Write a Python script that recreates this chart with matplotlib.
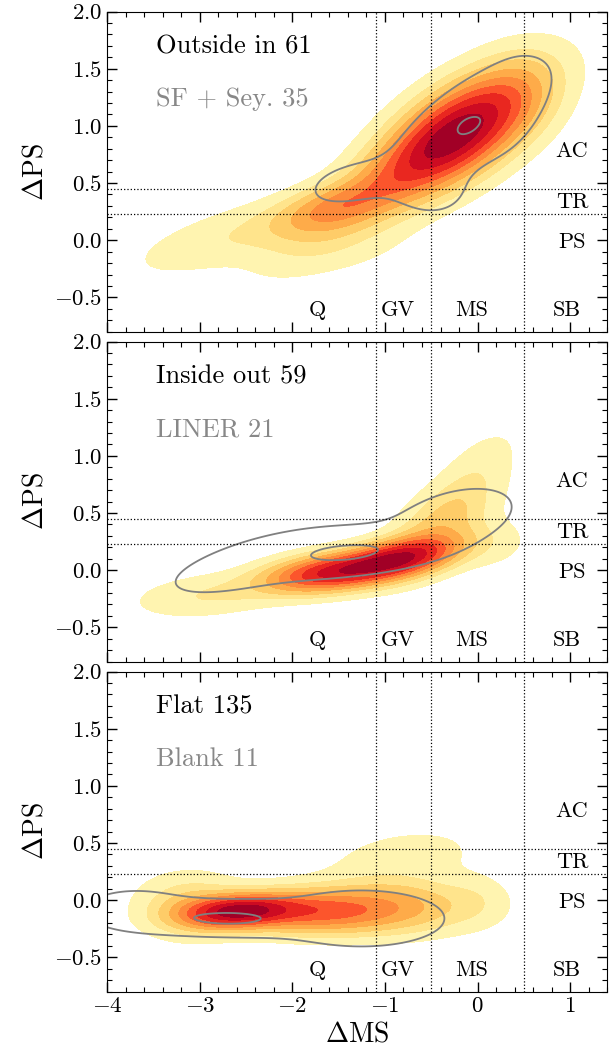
import numpy as np
import matplotlib
matplotlib.use("Agg")
import matplotlib.pyplot as plt
from matplotlib.ticker import MultipleLocator

plt.rcParams['font.family'] = 'serif'
plt.rcParams['font.serif'] = ['cmr10', 'DejaVu Serif']
plt.rcParams['mathtext.fontset'] = 'cm'
plt.rcParams['axes.formatter.use_mathtext'] = True

# panel titles (black = filled density, grey = contour lines)
titles = ['Outside in 61', 'Inside out 59', 'Flat 135']
subtitles = ['SF + Sey. 35', 'LINER 21', 'Blank 11']

# density blobs: x0, y0, sx, sy, rho, weight
filled_outside = [(-0.2, 0.95, 0.50, 0.32, 0.60, 1.0),
                  (-0.8, 0.60, 0.70, 0.40, 0.85, 0.35),
                  (-1.6, 0.28, 0.40, 0.15, 0.55, 0.30),
                  (-2.6, 0.05, 0.70, 0.22, 0.70, 0.10),
                  (-1.5, -0.05, 0.55, 0.18, 0.30, 0.05),
                  (0.45, 1.25, 0.30, 0.25, 0.20, 0.10)]
lines_sf = [(-0.1, 1.00, 0.50, 0.33, 0.70, 1.0),
            (-0.12, 1.00, 0.15, 0.10, 0.30, 0.25),
            (0.35, 1.15, 0.20, 0.25, 0.30, 0.22),
            (-1.4, 0.50, 0.35, 0.15, 0.40, 0.35),
            (-0.45, 0.42, 0.25, 0.15, 0.00, 0.30)]

filled_inside = [(-0.85, 0.10, 0.40, 0.12, 0.50, 1.0),
                 (-1.6, -0.02, 0.45, 0.11, 0.40, 0.90),
                 (-2.9, -0.22, 0.50, 0.12, 0.30, 0.12),
                 (-0.4, 0.40, 0.35, 0.25, 0.60, 0.25),
                 (0.0, 0.88, 0.30, 0.25, 0.60, 0.07),
                 (0.1, 0.25, 0.30, 0.15, 0.00, 0.07)]
lines_liner = [(-1.35, 0.15, 0.55, 0.12, 0.30, 1.0),
               (-0.25, 0.45, 0.45, 0.19, 0.40, 0.60),
               (-2.4, 0.06, 0.75, 0.22, 0.65, 0.45)]

filled_flat = [(-2.6, -0.10, 0.38, 0.09, 0.20, 1.0),
               (-1.8, -0.10, 0.55, 0.12, 0.00, 0.58),
               (-0.9, -0.05, 0.55, 0.15, 0.00, 0.32),
               (-0.8, 0.38, 0.55, 0.17, 0.30, 0.07),
               (0.0, 0.00, 0.22, 0.15, 0.00, 0.05),
               (-3.1, -0.05, 0.35, 0.17, 0.00, 0.20)]
lines_blank = [(-2.7, -0.16, 0.55, 0.09, 0.00, 1.0),
               (-1.25, -0.16, 0.62, 0.17, 0.00, 0.60),
               (-3.7, -0.08, 0.45, 0.14, 0.00, 0.40)]

filled_sets = [filled_outside, filled_inside, filled_flat]
line_sets = [lines_sf, lines_liner, lines_blank]

# region boundaries
ms_cuts = [-1.1, -0.5, 0.5]
ps_cuts = [0.45, 0.23]
ms_names = ['Q', 'GV', 'MS', 'SB']
ms_name_x = [-1.73, -0.86, -0.06, 0.96]
ps_names = ['AC', 'TR', 'PS']
ps_name_y = [0.78, 0.33, -0.02]

fill_levels = [0.03, 0.09, 0.16, 0.25, 0.35, 0.46, 0.58, 0.72, 0.86, 1.01]
line_levels = [[0.17, 0.93], [0.2, 0.88], [0.2, 0.88]]


def mixture(blobs, X, Y):
    Z = np.zeros_like(X)
    for x0, y0, sx, sy, r, w in blobs:
        dx = (X - x0) / sx
        dy = (Y - y0) / sy
        Z += w * np.exp(-0.5 / (1 - r**2) * (dx**2 - 2 * r * dx * dy + dy**2))
    return Z / Z.max()


xg = np.linspace(-4.6, 1.8, 400)
yg = np.linspace(-1.0, 2.2, 300)
X, Y = np.meshgrid(xg, yg)

cols = plt.cm.YlOrRd(np.linspace(0.08, 0.93, len(fill_levels) - 1))

fig, axes = plt.subplots(3, 1, figsize=(6.09, 10.56), dpi=100, sharex=True)
plt.subplots_adjust(left=0.176, right=0.997, top=0.989, bottom=0.061, hspace=0.031)

for i, ax in enumerate(axes):
    Zf = mixture(filled_sets[i], X, Y)
    ax.contourf(X, Y, Zf, levels=fill_levels, colors=cols)
    Zl = mixture(line_sets[i], X, Y)
    ax.contour(X, Y, Zl, levels=line_levels[i], colors='grey', linewidths=1.3)

    for c in ms_cuts:
        ax.axvline(c, color='k', ls=':', lw=0.9)
    for c in ps_cuts:
        ax.axhline(c, color='k', ls=':', lw=0.9)
    for name, x in zip(ms_names, ms_name_x):
        ax.text(x, -0.61, name, ha='center', va='center', fontsize=16)
    for name, y in zip(ps_names, ps_name_y):
        ax.text(1.02, y, name, ha='center', va='center', fontsize=16)

    ax.text(-3.47, 1.69, titles[i], fontsize=19, va='center')
    ax.text(-3.47, 1.23, subtitles[i], fontsize=19, va='center', color='#888888')

    ax.set_xlim(-4, 1.4)
    ax.set_ylim(-0.8, 2.0)
    ax.xaxis.set_major_locator(MultipleLocator(1))
    ax.xaxis.set_minor_locator(MultipleLocator(0.2))
    ax.yaxis.set_major_locator(MultipleLocator(0.5))
    ax.yaxis.set_minor_locator(MultipleLocator(0.1))
    ax.tick_params(which='both', direction='in', top=True, right=True, labelsize=16.5)
    ax.tick_params(which='major', length=7, width=1)
    ax.tick_params(which='minor', length=3.5, width=0.8)
    ax.set_ylabel(r'$\Delta$PS', fontsize=20)

axes[-1].set_xlabel(r'$\Delta$MS', fontsize=20)

plt.savefig('out.png', dpi=100)
